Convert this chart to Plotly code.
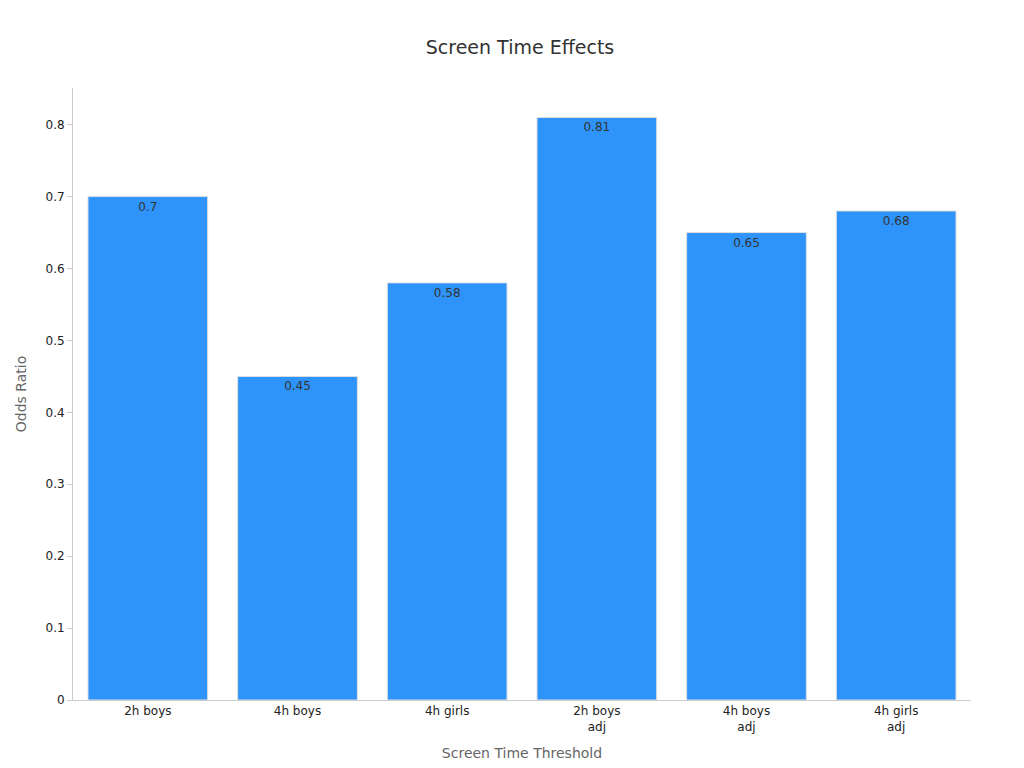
import plotly.graph_objects as go

categories = ["2h boys", "4h boys", "4h girls", "2h boys<br>adj", "4h boys<br>adj", "4h girls<br>adj"]
odds_ratio = [0.7, 0.45, 0.58, 0.81, 0.65, 0.68]

fig = go.Figure(go.Bar(
    x=categories, y=odds_ratio, text=[str(v) for v in odds_ratio],
    textposition="inside", insidetextanchor="end",
    textfont=dict(color="#333333", size=12),
    marker=dict(color="#2e93fa", line=dict(color="#e0e0e0", width=1)),
    width=0.8,
))
fig.update_layout(
    width=1024, height=768, paper_bgcolor="white", plot_bgcolor="white",
    font=dict(family="DejaVu Sans, sans-serif", size=12, color="#222"),
    title=dict(text="Screen Time Effects", x=0.5, y=0.957, xanchor="center",
               font=dict(size=19, color="#333")),
    margin=dict(l=65, r=61, t=80, b=76),
    showlegend=False,
    xaxis=dict(title=dict(text="Screen Time Threshold", font=dict(size=14, color="#666")),
               showline=True, linecolor="#ccc", ticks="", showgrid=False),
    yaxis=dict(title=dict(text="Odds Ratio", font=dict(size=14, color="#666")),
               range=[0, 0.851], dtick=0.1, showline=True, linecolor="#ccc",
               ticks="outside", ticklen=5, tickcolor="#ccc", showgrid=False, zeroline=False,
               tickformat="~g"),
)
fig.write_html("out.html")
